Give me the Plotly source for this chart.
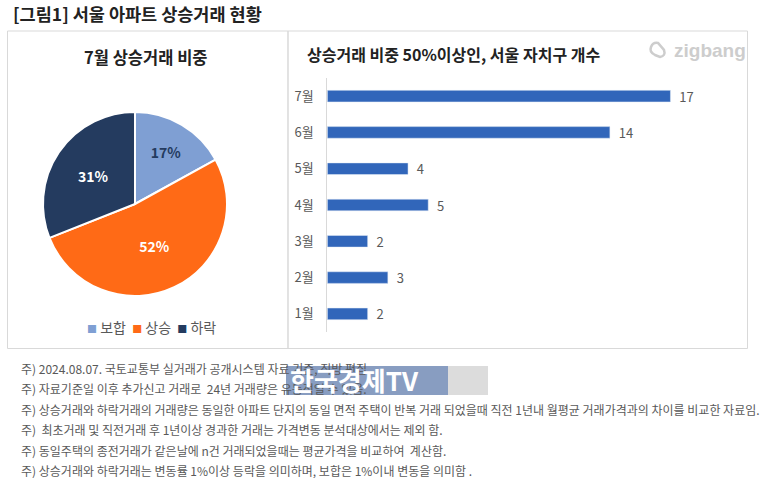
import plotly.graph_objects as go

W, H = 775, 478

# ---- data ----
pie_labels = ["보합", "상승", "하락"]
pie_values = [17, 52, 31]
pie_colors = ["#7F9FD3", "#FF6A16", "#243B5F"]
pie_text_colors = ["#243B5F", "#FFFFFF", "#FFFFFF"]

bar_months = ["1월", "2월", "3월", "4월", "5월", "6월", "7월"]
bar_counts = [2, 3, 2, 5, 4, 14, 17]

main_title = "[그림1] 서울 아파트 상승거래 현황"
pie_title = "7월 상승거래 비중"
bar_title = "상승거래 비중 50%이상인, 서울 자치구 개수"
footnotes = [
    "주) 2024.08.07. 국토교통부 실거래가 공개시스템 자료 기준, 직방 편집",
    "주) 자료기준일 이후 추가신고 거래로  24년 거래량은 유동적일 수 있음.",
    "주) 상승거래와 하락거래의 거래량은 동일한 아파트 단지의 동일 면적 주택이 반복 거래 되었을때 직전 1년내 월평균 거래가격과의 차이를 비교한 자료임.",
    "주)  최초거래 및 직전거래 후 1년이상 경과한 거래는 가격변동 분석대상에서는 제외 함.",
    "주) 동일주택의 종전거래가 같은날에 n건 거래되었을때는 평균가격을 비교하여  계산함.",
    "주) 상승거래와 하락거래는 변동률 1%이상 등락을 의미하며, 보합은 1%이내 변동을 의미함 .",
]


def px(x):
    return x / W


def py(y):
    return 1 - y / H


FONT = "Noto Sans CJK KR"
GRAY = "#595959"

fig = go.Figure()

# pie
cx, cy, r = 135, 204, 92
fig.add_trace(go.Pie(
    labels=pie_labels, values=pie_values, sort=False, direction="clockwise",
    rotation=0,
    marker=dict(colors=pie_colors, line=dict(color="white", width=2)),
    texttemplate="<b>%{value}%</b>", textposition="inside",
    insidetextorientation="horizontal",
    textfont=dict(family=FONT, size=14, color=pie_text_colors),
    domain=dict(x=[px(cx - r), px(cx + r)], y=[py(cy + r), py(cy - r)]),
    showlegend=False, hoverinfo="label+percent",
))

# bars
fig.add_trace(go.Bar(
    x=bar_counts, y=bar_months, orientation="h",
    marker=dict(color="#3166BA"),
    texttemplate="\u00a0\u00a0%{x}", textposition="outside", constraintext="none",
    textfont=dict(family=FONT, size=13, color=GRAY),
    cliponaxis=False, showlegend=False,
))

fig.update_layout(
    width=W, height=H, autosize=False,
    margin=dict(l=0, r=0, t=0, b=0),
    paper_bgcolor="white", plot_bgcolor="white",
    bargap=0.68,
    font=dict(family=FONT, color=GRAY),
    xaxis=dict(domain=[px(327.3), px(731)], range=[0, 20], showgrid=False,
               zeroline=False, showticklabels=False, showline=False, fixedrange=True),
    yaxis=dict(domain=[py(332), py(78)], range=[-0.5, 6.5], type="category",
               categoryorder="array", categoryarray=bar_months,
               showgrid=False, zeroline=False, showline=True, linecolor="#D9D9D9",
               linewidth=1, ticks="", ticklabelstandoff=10,
               tickfont=dict(family=FONT, size=13, color=GRAY), fixedrange=True),
)

shapes = []
# panel borders
shapes.append(dict(type="rect", xref="paper", yref="paper",
                   x0=px(7.5), x1=px(288), y0=py(348.5), y1=py(31),
                   line=dict(color="#D9D9D9", width=1)))
shapes.append(dict(type="rect", xref="paper", yref="paper",
                   x0=px(288), x1=px(747.5), y0=py(348.5), y1=py(31),
                   line=dict(color="#D9D9D9", width=1)))

annotations = []
annotations.append(dict(text="<b>" + main_title + "</b>", x=px(11), y=py(13),
                        xref="paper", yref="paper", xanchor="left", yanchor="middle",
                        showarrow=False, font=dict(family=FONT, size=17.5, color="#222222")))
annotations.append(dict(text="<b>" + pie_title + "</b>", x=px(146), y=py(57),
                        xref="paper", yref="paper", xanchor="center", yanchor="middle",
                        showarrow=False, font=dict(family=FONT, size=16.5, color="#222222")))
annotations.append(dict(text="<b>" + bar_title + "</b>", x=px(305), y=py(54),
                        xref="paper", yref="paper", xanchor="left", yanchor="middle",
                        showarrow=False, font=dict(family=FONT, size=16, color="#222222")))

# legend for pie
leg = "\u00a0\u00a0".join(
    f'<span style="color:{c};font-size:10px">■</span>\u00a0{lab}'
    for lab, c in zip(pie_labels, pie_colors)
)
annotations.append(dict(text=leg, x=px(151), y=py(327), xref="paper", yref="paper",
                        xanchor="center", yanchor="middle", showarrow=False,
                        font=dict(family=FONT, size=14, color=GRAY)))

# zigbang logo
annotations.append(dict(text="<b>zigbang</b>", x=px(672), y=py(51), xref="paper", yref="paper",
                        xanchor="left", yanchor="middle", showarrow=False,
                        font=dict(family="Liberation Sans", size=19, color="#CDCDCD")))
shapes.append(dict(type="path", xref="paper", yref="paper",
                   path=(f"M {px(651)},{py(47)} Q {px(653)},{py(42)} {px(658)},{py(43)} "
                         f"L {px(664)},{py(50)} Q {px(666)},{py(56)} {px(660)},{py(57)} "
                         f"L {px(655)},{py(55)} Q {px(649)},{py(52)} {px(651)},{py(47)} Z"),
                   line=dict(color="#CDCDCD", width=2.5)))

# footnotes
fy = [368, 388.5, 409, 429.5, 450, 470]
for t, yy in zip(footnotes, fy):
    annotations.append(dict(text=t, x=px(19), y=py(yy), xref="paper", yref="paper",
                            xanchor="left", yanchor="middle", showarrow=False,
                            font=dict(family=FONT, size=12, color=GRAY)))

# watermark (overlay present in the reference image)
shapes.append(dict(type="rect", xref="paper", yref="paper",
                   x0=px(286), x1=px(448), y0=py(395), y1=py(366),
                   fillcolor="#7890B8", opacity=0.88, line=dict(width=0)))
shapes.append(dict(type="rect", xref="paper", yref="paper",
                   x0=px(448), x1=px(488), y0=py(395), y1=py(366),
                   fillcolor="#D8D8D8", opacity=0.9, line=dict(width=0)))
annotations.append(dict(text="<b>한국경제TV</b>", x=px(288), y=py(379), xref="paper", yref="paper",
                        xanchor="left", yanchor="middle", showarrow=False,
                        font=dict(family=FONT, size=26, color="white")))

fig.update_layout(shapes=shapes, annotations=annotations)
fig.write_html("out.html", config={"displayModeBar": False},
               post_script="document.body.style.margin='0px';")
